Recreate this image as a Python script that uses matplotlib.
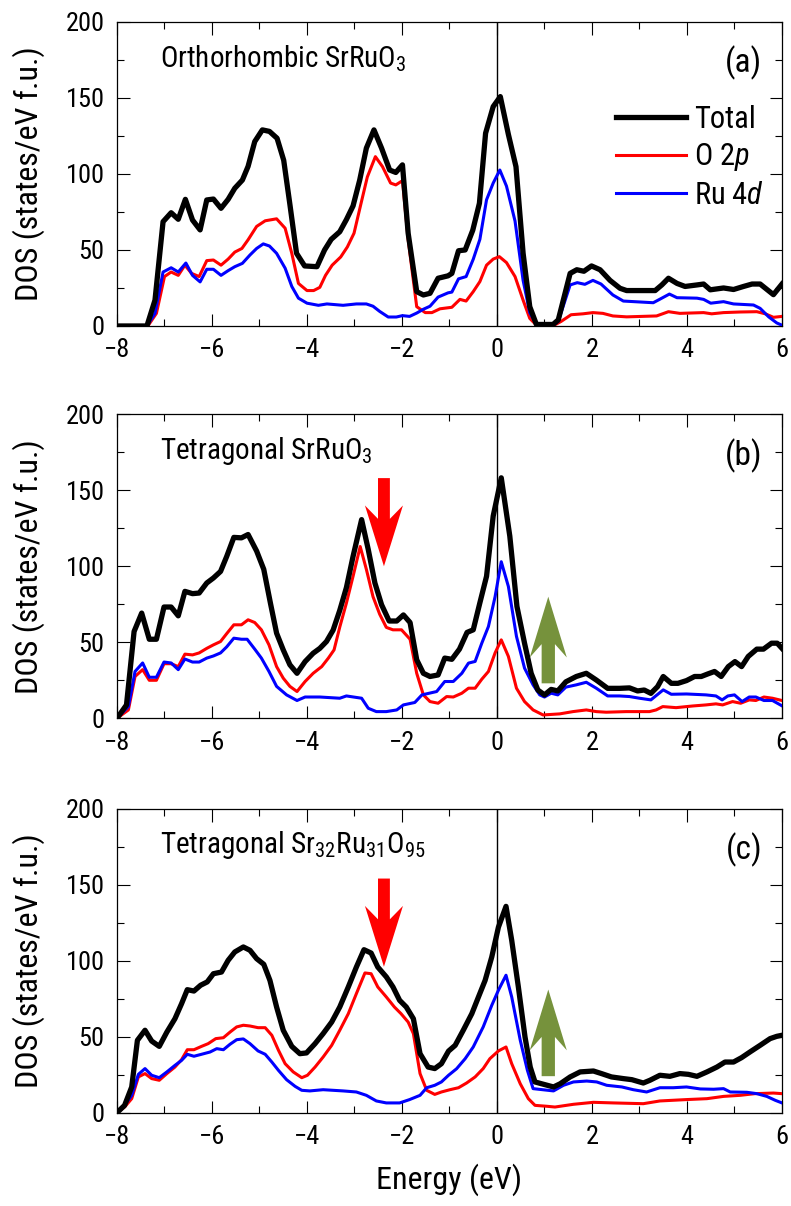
import numpy
import matplotlib
matplotlib.use("Agg")
import matplotlib.pyplot as plt
from matplotlib import font_manager
from matplotlib.ticker import MultipleLocator


# Panel (a): orthorhombic SrRuO3
e_total_a = [-8.0, -7.37, -7.2, -7.03, -6.86, -6.71, -6.56, -6.41, -6.25, -6.11, -5.97, -5.81, -5.66, -5.52, -5.36, -5.24, -5.10, -4.94, -4.79, -4.63, -4.49, -4.36, -4.22, -4.05, -3.79, -3.63, -3.49, -3.31, -3.17, -3.03, -2.89, -2.75, -2.59, -2.43, -2.26, -2.13, -1.99, -1.87, -1.69, -1.55, -1.41, -1.24, -1.03, -0.95, -0.81, -0.67, -0.51, -0.37, -0.24, -0.08, 0.07, 0.24, 0.40, 0.55, 0.69, 0.83, 1.18, 1.29, 1.54, 1.68, 1.83, 1.99, 2.17, 2.38, 2.59, 2.73, 3.33, 3.47, 3.61, 3.79, 3.96, 4.21, 4.35, 4.49, 4.77, 4.98, 5.19, 5.37, 5.54, 5.82, 6.0]
total_a = [0, 0, 17, 68.6, 74.5, 70.2, 83.3, 69.7, 63.2, 82.9, 83.5, 77.4, 83.3, 90.6, 96, 105, 121.3, 129, 128, 123.5, 109, 80, 47.8, 39.5, 39, 50, 57, 62, 70, 79, 96, 117, 129, 117, 102.6, 101, 106, 61, 22.6, 20.4, 21.5, 31.4, 33, 34.6, 49.5, 50, 63, 80.7, 126.8, 144.3, 150.9, 126, 104.8, 47.8, 12.7, 1, 1, 4, 34.6, 37, 36, 39.5, 37, 30, 24.8, 23.3, 23.3, 27, 31.4, 28, 26, 27, 27.6, 23.8, 25, 24, 26, 27.6, 27.6, 20.6, 27.6]

e_o2p_a = [-8.0, -7.35, -7.17, -7.0, -6.86, -6.71, -6.57, -6.43, -6.27, -6.11, -5.97, -5.81, -5.66, -5.52, -5.37, -5.24, -5.06, -4.88, -4.64, -4.46, -4.32, -4.18, -4.0, -3.86, -3.73, -3.61, -3.47, -3.29, -3.15, -3.01, -2.87, -2.73, -2.56, -2.41, -2.24, -2.13, -1.99, -1.87, -1.69, -1.51, -1.37, -1.2, -0.95, -0.78, -0.65, -0.50, -0.36, -0.22, -0.08, 0.05, 0.20, 0.38, 0.55, 0.69, 0.83, 1.21, 1.35, 1.56, 1.81, 2.02, 2.23, 2.44, 2.73, 3.36, 3.61, 3.85, 4.35, 4.52, 4.77, 5.12, 5.47, 5.65, 5.82, 6.0]
o2p_a = [0, 0, 8.3, 32.5, 35.5, 33.3, 40, 34.6, 32.5, 43, 43.4, 40, 44, 48.6, 51, 56.7, 65.5, 69.2, 70.5, 64.3, 47.8, 28, 23.3, 23.3, 25.4, 33.3, 40, 45.4, 52, 61, 79.6, 98, 111.4, 104.8, 94, 92.8, 95.6, 56.7, 12.7, 8.8, 8.8, 11.3, 12.3, 17.5, 16.4, 22.6, 29.2, 40, 44, 45.6, 41.7, 32.5, 17, 5, 0.6, 0.6, 3, 7.4, 8, 8.8, 8.3, 6.6, 6, 6.6, 9.4, 8.3, 8.8, 8, 8.8, 9.2, 9.4, 8, 5.7, 6.3]

e_ru4d_a = [-8.0, -7.37, -7.2, -7.03, -6.86, -6.71, -6.55, -6.41, -6.25, -6.11, -5.97, -5.81, -5.66, -5.52, -5.36, -5.20, -5.06, -4.92, -4.79, -4.64, -4.46, -4.32, -4.18, -4.0, -3.76, -3.58, -3.24, -2.96, -2.75, -2.61, -2.47, -2.29, -2.12, -1.99, -1.84, -1.69, -1.55, -1.41, -1.24, -1.03, -0.95, -0.81, -0.65, -0.50, -0.36, -0.22, -0.08, 0.06, 0.20, 0.38, 0.55, 0.69, 0.83, 1.18, 1.29, 1.54, 1.69, 1.85, 2.02, 2.19, 2.44, 2.66, 3.29, 3.47, 3.63, 3.79, 4.21, 4.35, 4.50, 4.77, 4.98, 5.40, 5.54, 5.72, 5.89, 6.0]
ru4d_a = [0, 0, 8.3, 35.5, 38.3, 35.5, 41.4, 33.3, 29, 37.3, 37.3, 33.3, 36.4, 39, 41.2, 46.7, 51, 54, 52.6, 47.8, 38, 26, 18.3, 15, 13.6, 14.5, 13.6, 14.5, 14.5, 13, 9.6, 5.9, 5.9, 6.8, 6.3, 8.5, 11, 13, 19, 21.8, 22.3, 31, 32.5, 43.9, 57, 83, 94, 102.6, 92, 69, 30, 8.8, 1, 0.6, 3, 27, 28.5, 27.4, 30, 27.6, 20.4, 16.4, 15.3, 18.3, 21, 18.6, 18.3, 17.5, 15, 16, 14.5, 13.8, 11.6, 6, 2, 0.5]

# Panel (b): tetragonal SrRuO3
e_total_b = [-8.0, -7.8, -7.64, -7.48, -7.32, -7.17, -7.01, -6.86, -6.71, -6.57, -6.41, -6.27, -6.11, -5.97, -5.82, -5.69, -5.54, -5.38, -5.24, -5.06, -4.91, -4.77, -4.64, -4.50, -4.36, -4.21, -4.04, -3.87, -3.73, -3.59, -3.45, -3.31, -3.17, -3.03, -2.85, -2.71, -2.57, -2.43, -2.27, -2.11, -1.97, -1.83, -1.69, -1.55, -1.41, -1.24, -1.1, -0.95, -0.79, -0.63, -0.50, -0.36, -0.22, -0.08, 0.09, 0.27, 0.42, 0.58, 0.72, 0.86, 1.0, 1.14, 1.28, 1.45, 1.67, 1.88, 2.09, 2.33, 2.58, 2.79, 2.96, 3.1, 3.24, 3.38, 3.5, 3.67, 3.81, 3.99, 4.16, 4.30, 4.44, 4.58, 4.72, 4.87, 5.01, 5.15, 5.29, 5.47, 5.61, 5.78, 5.90, 6.0]
total_b = [0, 8.8, 57.1, 69.2, 52, 52, 73.2, 73.2, 67.4, 83.5, 82, 82.4, 89, 92.3, 96.6, 106.5, 119, 118.7, 120.9, 110, 98, 75.8, 56, 45, 35.2, 29.6, 37.3, 42.8, 46, 50.5, 58, 71, 86, 106.5, 130.7, 111, 89, 74.7, 64, 64, 68, 63, 38.5, 29.6, 27.5, 28.5, 39.6, 38.8, 45.5, 56.5, 58.2, 76, 93.4, 133, 158.2, 119.8, 73.6, 49.4, 29.6, 18.6, 15.4, 19, 18, 24, 27.5, 29.6, 25.2, 19.7, 19.7, 20, 18, 18.6, 16.4, 20.8, 27.5, 23, 23, 24.8, 27.5, 27.5, 29.2, 30.8, 27.5, 34, 37.3, 34, 40.7, 45.5, 45.5, 49.4, 49.4, 46]

e_o2p_b = [-8.0, -7.76, -7.62, -7.46, -7.32, -7.17, -7.01, -6.86, -6.71, -6.57, -6.41, -6.27, -6.11, -5.97, -5.82, -5.69, -5.54, -5.38, -5.24, -5.10, -4.96, -4.80, -4.64, -4.50, -4.36, -4.21, -4.04, -3.87, -3.69, -3.55, -3.43, -3.31, -3.17, -3.03, -2.88, -2.75, -2.61, -2.47, -2.33, -2.19, -2.01, -1.83, -1.69, -1.55, -1.41, -1.24, -1.06, -0.92, -0.74, -0.60, -0.46, -0.32, -0.18, -0.04, 0.09, 0.24, 0.41, 0.58, 0.76, 0.97, 1.32, 1.60, 1.88, 2.09, 2.30, 2.72, 3.21, 3.35, 3.49, 3.77, 4.12, 4.40, 4.61, 4.75, 4.96, 5.13, 5.31, 5.45, 5.62, 5.80, 6.0]
o2p_b = [0, 5.5, 27.5, 32, 25, 25, 35.9, 35.9, 34, 42.2, 41.7, 43, 46, 48.3, 50.5, 55.7, 61.5, 61.5, 64.8, 63, 58.2, 48.3, 34, 26.4, 21, 17.6, 24.2, 29.6, 34, 39.6, 45, 60, 75.8, 93.4, 113, 98, 80, 68.5, 59.8, 58.2, 58.2, 52, 29.6, 15.4, 11, 9.9, 14.3, 14, 16.5, 19.8, 19.8, 25.7, 30.8, 43, 51.6, 40.7, 19.8, 11, 5.5, 2.2, 2.9, 4.4, 5.5, 4.4, 4, 4.4, 4.4, 5.5, 7.7, 7, 8.1, 8.8, 9.5, 8.8, 11, 9.9, 12.1, 11.7, 14, 13.2, 11.7]

e_ru4d_b = [-8.0, -7.76, -7.62, -7.46, -7.32, -7.17, -7.01, -6.86, -6.71, -6.57, -6.41, -6.27, -6.11, -5.97, -5.82, -5.69, -5.54, -5.38, -5.26, -5.10, -4.96, -4.80, -4.64, -4.43, -4.21, -4.04, -3.73, -3.31, -3.17, -2.85, -2.71, -2.54, -2.33, -2.11, -1.97, -1.73, -1.58, -1.27, -1.1, -0.92, -0.74, -0.60, -0.46, -0.32, -0.18, -0.04, 0.09, 0.24, 0.41, 0.58, 0.76, 0.90, 1.0, 1.14, 1.28, 1.45, 1.67, 1.88, 2.09, 2.33, 2.58, 2.79, 3.0, 3.24, 3.5, 3.67, 3.99, 4.40, 4.61, 4.74, 4.86, 5.0, 5.16, 5.31, 5.45, 5.62, 5.80, 6.0]
ru4d_b = [0, 7.7, 30.8, 36.4, 27, 27, 37, 36.4, 32, 39, 37, 37, 39.6, 41, 43, 47, 52.7, 52, 52, 45.5, 39.6, 30.8, 21, 15.4, 11.7, 14, 14, 13.2, 14.7, 13.2, 6.6, 4.4, 4.4, 5.5, 8.8, 10.4, 15.4, 17.6, 24.2, 24.2, 29.6, 36.3, 37.4, 49.4, 60.4, 80, 103, 86.7, 53.9, 33, 22, 15.4, 14, 16.5, 15.4, 20.5, 22, 23.7, 19.8, 14.7, 14.7, 14.3, 13.2, 12.1, 18.7, 15.8, 16, 15.4, 14.7, 12.1, 14.7, 15.4, 11, 14, 14, 11.7, 11.7, 8.2]

# Panel (c): tetragonal Sr32Ru31O95
e_total_c = [-8.0, -7.84, -7.69, -7.57, -7.41, -7.27, -7.11, -6.95, -6.78, -6.64, -6.52, -6.38, -6.24, -6.10, -5.97, -5.80, -5.66, -5.52, -5.34, -5.20, -5.06, -4.91, -4.78, -4.64, -4.50, -4.32, -4.15, -4.01, -3.83, -3.66, -3.48, -3.31, -3.13, -2.96, -2.80, -2.65, -2.51, -2.33, -2.19, -2.05, -1.91, -1.76, -1.62, -1.45, -1.31, -1.17, -1.02, -0.88, -0.71, -0.53, -0.39, -0.25, -0.11, 0.03, 0.19, 0.31, 0.45, 0.59, 0.70, 0.80, 0.94, 1.19, 1.33, 1.54, 1.75, 2.03, 2.20, 2.41, 2.66, 2.84, 3.08, 3.22, 3.43, 3.64, 3.85, 4.03, 4.21, 4.42, 4.63, 4.80, 4.98, 5.15, 5.33, 5.54, 5.75, 5.89, 6.0]
total_c = [0, 4.8, 16.9, 47.6, 54.2, 47.1, 43.6, 53, 61.8, 71.7, 80.9, 80, 83.8, 86, 91.4, 92.5, 100.2, 105.7, 109, 106.8, 101.3, 97.6, 87, 69.5, 54.2, 43.6, 38.8, 39.3, 45.4, 52, 59.6, 69.5, 82.7, 95.8, 107.2, 105, 95.8, 89.3, 82.7, 73.9, 69.5, 61.8, 38.8, 30, 29, 32.2, 40.5, 44.3, 54.2, 65.1, 76.1, 87, 102.4, 122, 135.7, 113.4, 82.7, 49.8, 30, 20.2, 19, 16.9, 19, 23.5, 26.8, 27.4, 25.7, 23.5, 22.4, 21.7, 19.5, 21.3, 24.6, 23.9, 25.7, 25.2, 23.9, 26.8, 30, 33.3, 33.3, 36.2, 40, 44.3, 48.7, 50.2, 50.9]

e_o2p_c = [-8.0, -7.84, -7.69, -7.55, -7.41, -7.27, -7.11, -6.95, -6.78, -6.64, -6.52, -6.38, -6.22, -6.08, -5.92, -5.76, -5.62, -5.48, -5.34, -5.20, -5.03, -4.88, -4.74, -4.60, -4.46, -4.29, -4.11, -3.99, -3.83, -3.66, -3.48, -3.31, -3.13, -2.96, -2.78, -2.65, -2.51, -2.33, -2.16, -2.02, -1.87, -1.76, -1.62, -1.48, -1.31, -1.17, -0.99, -0.81, -0.64, -0.46, -0.29, -0.15, 0.03, 0.19, 0.31, 0.49, 0.66, 0.80, 1.05, 1.22, 1.61, 2.03, 2.45, 3.08, 3.43, 3.99, 4.42, 4.77, 5.12, 5.43, 5.82, 6.0]
o2p_c = [0, 3.7, 9.2, 23.5, 25.7, 22.4, 21.3, 25.7, 30, 34.9, 41.4, 41.4, 43.6, 45.4, 48.7, 49.3, 53, 56.4, 57.5, 57, 55.9, 55.9, 50.9, 41, 32.2, 26.8, 23, 24.6, 30, 36.6, 44.3, 54.2, 65.1, 78.3, 91.9, 91.4, 82.7, 76.1, 69.5, 65.1, 59.6, 52, 25.7, 14.7, 12, 13.6, 15.1, 16.4, 19.5, 23.5, 29, 35.5, 40.6, 43.2, 32.2, 19, 9.2, 4.8, 4.2, 3.7, 5.5, 6.8, 6.4, 5.9, 7.7, 8.6, 9.2, 10.7, 11.4, 12.5, 12.9, 12.5]

e_ru4d_c = [-8.0, -7.84, -7.69, -7.55, -7.41, -7.27, -7.11, -6.95, -6.78, -6.64, -6.52, -6.38, -6.22, -6.04, -5.90, -5.76, -5.62, -5.48, -5.34, -5.20, -5.03, -4.88, -4.74, -4.60, -4.43, -4.25, -4.11, -3.94, -3.66, -3.24, -2.96, -2.75, -2.54, -2.33, -2.05, -1.84, -1.62, -1.48, -1.31, -1.17, -1.02, -0.85, -0.67, -0.50, -0.29, -0.11, 0.03, 0.19, 0.31, 0.49, 0.64, 0.76, 1.19, 1.40, 1.61, 1.89, 2.10, 2.31, 2.63, 2.87, 3.15, 3.43, 3.71, 3.99, 4.28, 4.56, 4.77, 4.91, 5.26, 5.47, 5.68, 5.86, 6.0]
ru4d_c = [0, 4.8, 11.4, 25.2, 29, 24.6, 23, 26.8, 31.1, 34.4, 38.4, 37.1, 38.4, 39.9, 42.1, 41.4, 45, 48, 48.5, 45.4, 40.6, 38.4, 33.3, 27.8, 21.7, 17.3, 14.7, 14.3, 15.1, 14.3, 13.6, 11.4, 7.7, 6.4, 6.4, 8.6, 11.4, 16.4, 18, 20.2, 24.6, 28.9, 35.5, 43.2, 56.4, 70.6, 80.5, 90.4, 76.1, 47.6, 27.9, 15.8, 14.3, 18, 20.2, 20.8, 20.2, 18, 16.9, 15.1, 13.6, 16.4, 16.4, 16.9, 15.6, 15.4, 15.8, 13.6, 13.4, 12.5, 10.7, 8.1, 6.4]

titles = [
    r"Orthorhombic SrRuO$_3$",
    r"Tetragonal SrRuO$_3$",
    r"Tetragonal Sr$_{32}$Ru$_{31}$O$_{95}$",
]
tags = ["(a)", "(b)", "(c)"]
labels = ["Total", r"O 2$\mathit{p}$", r"Ru 4$\mathit{d}$"]

# Arrows (panels b and c): (energy, start DOS, end DOS)
red_arrows = {1: (-2.38, 158, 100), 2: (-2.38, 154, 96)}
green_arrows = {1: (1.08, 23, 80), 2: (1.08, 24, 81)}


installed = {f.name for f in font_manager.fontManager.ttflist}
FONT = "Roboto Condensed" if "Roboto Condensed" in installed \
    else "Liberation Sans"
plt.rcParams["font.family"] = [FONT, "DejaVu Sans"]
plt.rcParams["mathtext.fontset"] = "custom"
plt.rcParams["mathtext.rm"] = FONT
plt.rcParams["mathtext.it"] = FONT + ":italic"
plt.rcParams["mathtext.default"] = "regular"


fig = plt.figure(figsize=(7.91, 12.06), dpi=100)
bottoms = [0.7297, 0.4044, 0.0774]

panels = [
    (e_total_a, total_a, e_o2p_a, o2p_a, e_ru4d_a, ru4d_a),
    (e_total_b, total_b, e_o2p_b, o2p_b, e_ru4d_b, ru4d_b),
    (e_total_c, total_c, e_o2p_c, o2p_c, e_ru4d_c, ru4d_c),
]

for i, (et, t, eo, o, er, r) in enumerate(panels):
    ax = fig.add_axes([0.1479, bottoms[i], 0.8407, 0.2521])
    ax.axvline(0.0, color="k", lw=1.0, zorder=1)
    ax.plot(et, t, color="k", lw=3.8, label=labels[0], zorder=4)
    ax.plot(eo, o, color="#ff0000", lw=2.2, label=labels[1], zorder=3)
    ax.plot(er, r, color="#0000ff", lw=2.2, label=labels[2], zorder=3)

    ax.set_xlim(-8, 6)
    ax.set_ylim(0, 200)
    ax.xaxis.set_major_locator(MultipleLocator(2))
    ax.xaxis.set_minor_locator(MultipleLocator(1))
    ax.yaxis.set_major_locator(MultipleLocator(50))
    ax.yaxis.set_minor_locator(MultipleLocator(25))
    ax.tick_params(which="both", direction="in", top=True, right=True,
                   width=0.8, labelsize=19, pad=9)
    ax.tick_params(which="major", length=9)
    ax.tick_params(which="minor", length=5)
    for s in ax.spines.values():
        s.set_linewidth(0.9)

    ax.set_ylabel("DOS (states/eV f.u.)", fontsize=23)
    ax.yaxis.set_label_coords(-0.108, 0.5)

    ax.text(0.065, 0.88, titles[i], transform=ax.transAxes,
            fontsize=21, ha="left", va="center")
    ax.text(0.97, 0.865, tags[i], transform=ax.transAxes,
            fontsize=24, ha="right", va="center")

    if i == 0:
        ax.legend(loc="upper left", bbox_to_anchor=(0.75, 0.728),
                  frameon=False, fontsize=22, handlelength=2.3,
                  handletextpad=0.25, labelspacing=0.25,
                  borderpad=0, borderaxespad=0)

    if i in red_arrows:
        x, y0, y1 = red_arrows[i]
        ax.arrow(x, y0, 0, y1 - y0, width=0.25, head_width=0.8,
                 head_length=40, overhang=0.22, length_includes_head=True,
                 color="#ff0000", lw=0, zorder=5)
    if i in green_arrows:
        x, y0, y1 = green_arrows[i]
        ax.arrow(x, y0, 0, y1 - y0, width=0.28, head_width=0.78,
                 head_length=40, overhang=0.22, length_includes_head=True,
                 color="#76923c", lw=0, zorder=5)

    if i == 2:
        ax.set_xlabel("Energy (eV)", fontsize=23)
        ax.xaxis.set_label_coords(0.5, -0.168)

fig.savefig("out.png", dpi=100)
